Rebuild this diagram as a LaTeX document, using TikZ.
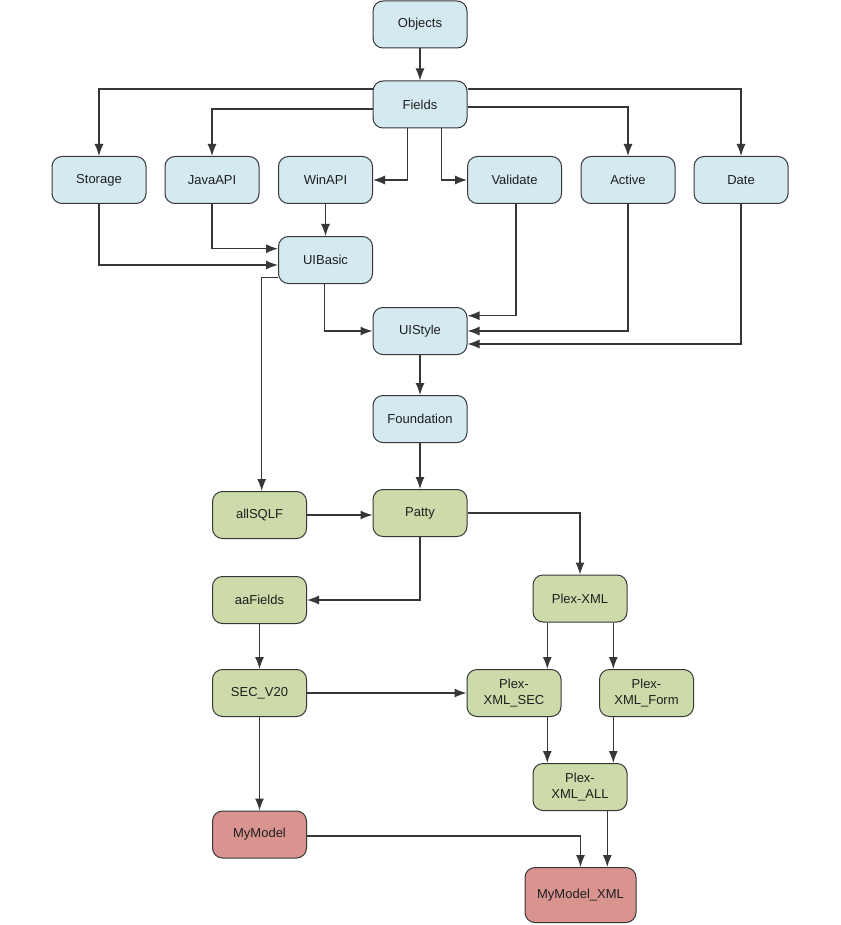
\documentclass[tikz,border=0pt]{standalone}
\usepackage{fontspec}
\setmainfont{Liberation Sans}
\usetikzlibrary{arrows.meta}
\definecolor{bluef}{RGB}{212,234,240}
\definecolor{greenf}{RGB}{205,219,170}
\definecolor{redf}{RGB}{218,148,144}
\definecolor{edge}{RGB}{55,55,55}
\definecolor{txt}{RGB}{30,30,30}
\tikzset{
  box/.style={draw=edge, line width=1pt, rounded corners=10pt, minimum width=94pt, minimum height=47pt, inner sep=0pt, align=center, text=txt, font=\fontsize{13}{16}\selectfont},
  bbox/.style={box, fill=bluef},
  gbox/.style={box, fill=greenf},
  rbox/.style={box, fill=redf},
  arr/.style={draw=edge, line width=1.2pt, -{Latex[length=12pt,width=9pt]}},
}
\begin{document}
\begin{tikzpicture}[x=1pt,y=-1pt]
\useasboundingbox (0,0) rectangle (840,925);
\fill[white] (0,0) rectangle (840,925);
% nodes
\node[bbox] (objects) at (420,24.5) {Objects};
\node[bbox] (fields) at (420,104.5) {Fields};
\node[bbox] (storage) at (99,180) {Storage};
\node[bbox] (java) at (212,180) {JavaAPI};
\node[bbox] (winapi) at (325.5,180) {WinAPI};
\node[bbox] (validate) at (514.5,180) {Validate};
\node[bbox] (active) at (628,180) {Active};
\node[bbox] (date) at (741,180) {Date};
\node[bbox] (uibasic) at (325.5,260) {UIBasic};
\node[bbox] (uistyle) at (420,331) {UIStyle};
\node[bbox] (foundation) at (420,419) {Foundation};
\node[gbox] (allsqlf) at (259.5,515) {allSQLF};
\node[gbox] (patty) at (420,513) {Patty};
\node[gbox] (aafields) at (259.5,600) {aaFields};
\node[gbox] (plexxml) at (580,598.5) {Plex-XML};
\node[gbox] (sec) at (259.5,693) {SEC\_V20};
\node[gbox] (plexsec) at (514,693) {Plex-\\XML\_SEC};
\node[gbox] (plexform) at (646.5,693) {Plex-\\XML\_Form};
\node[gbox] (plexall) at (580,787) {Plex-\\XML\_ALL};
\node[rbox] (mymodel) at (259.5,834.5) {MyModel};
\node[rbox, minimum width=111pt, minimum height=55pt] (mymodelxml) at (580.5,895) {MyModel\_XML};
% connectors
\draw[arr] (objects) -- (fields);
\draw[arr] ([yshift=15.5pt]fields.west) -| (storage.north);
\draw[arr] ([yshift=-4.5pt]fields.west) -| (java.north);
\draw[arr] ([xshift=-12.5pt]fields.south) |- (winapi.east);
\draw[arr] ([xshift=21.5pt]fields.south) |- (validate.west);
\draw[arr] ([yshift=-2.5pt]fields.east) -| (active.north);
\draw[arr] ([yshift=15.5pt]fields.east) -| (date.north);
\draw[arr] (winapi) -- (uibasic);
\draw[arr] (java.south) |- ([yshift=11.3pt]uibasic.west);
\draw[arr] (storage.south) |- ([yshift=-5pt]uibasic.west);
\draw[arr] ([yshift=-17.7pt]uibasic.west) -| ([xshift=2.2pt]allsqlf.north);
\draw[arr] ([xshift=-1.2pt]uibasic.south) |- (uistyle.west);
\draw[arr] ([xshift=1.5pt]validate.south) |- ([yshift=15.3pt]uistyle.east);
\draw[arr] (active.south) |- (uistyle.east);
\draw[arr] (date.south) |- ([yshift=-13pt]uistyle.east);
\draw[arr] (uistyle) -- (foundation);
\draw[arr] (foundation) -- (patty);
\draw[arr] (allsqlf.east) -- (allsqlf.east -| patty.west);
\draw[arr] (patty.east) -| (plexxml.north);
\draw[arr] (patty.south) |- (aafields.east);
\draw[arr] (aafields) -- (sec);
\draw[arr] (sec.east) -- (plexsec.west);
\draw[arr] (sec) -- (mymodel);
\draw[arr] ([yshift=-1.5pt]mymodel.east) -| (mymodelxml.north);
\draw[arr] ([xshift=-32.7pt]plexxml.south) -- ([xshift=-32.7pt]plexxml.south |- plexsec.north);
\draw[arr] ([xshift=33.3pt]plexxml.south) -- ([xshift=33.3pt]plexxml.south |- plexform.north);
\draw[arr] ([xshift=33.3pt]plexsec.south) -- ([xshift=33.3pt]plexsec.south |- plexall.north);
\draw[arr] ([xshift=-33.2pt]plexform.south) -- ([xshift=-33.2pt]plexform.south |- plexall.north);
\draw[arr] ([xshift=27.3pt]plexall.south) -- ([xshift=27.3pt]plexall.south |- mymodelxml.north);
\end{tikzpicture}
\end{document}
